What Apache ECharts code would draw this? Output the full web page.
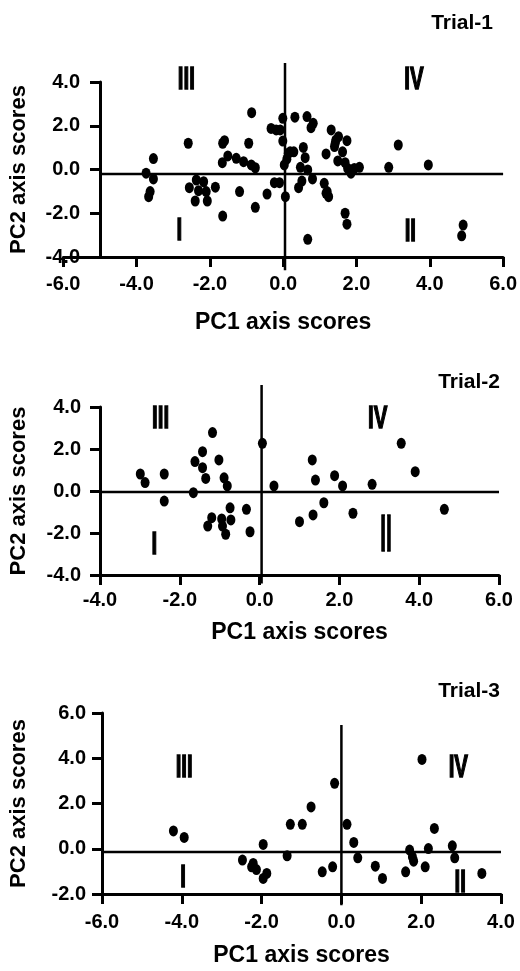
<!DOCTYPE html>
<html>
<head>
<meta charset="utf-8">
<script src="https://cdn.jsdelivr.net/npm/echarts@6/dist/echarts.min.js"></script>
<style>
  html, body { margin: 0; padding: 0; background: #fff; }
  #chart { width: 520px; height: 971px; }
</style>
</head>
<body>
<div id="chart"></div>
<script>
// ---------- data ----------
const panelTitles = ['Trial-1', 'Trial-2', 'Trial-3'];
const xAxisName = 'PC1 axis scores';
const yAxisName = 'PC2 axis scores';

// axis ranges [min, max, interval]
const xRange1 = [-6, 6, 2];
const yRange1 = [-4, 4, 2];
const yAxisAtX1 = -5;          // panel 1 y axis is drawn at PC1 = -5
const xRange2 = [-4, 6, 2];
const yRange2 = [-4, 4, 2];
const xRange3 = [-6, 4, 2];
const yRange3 = [-2, 6, 2];

// scatter points [PC1, PC2]
const trial1Points = [
  [-3.74,-0.17],[-3.54,0.50],[-3.54,-0.43],[-3.63,-1.01],[-3.67,-1.24],
  [-2.59,1.20],[-2.56,-0.83],[-2.37,-0.48],[-2.31,-0.97],[-2.40,-1.44],
  [-2.17,-0.56],[-2.10,-1.01],[-2.07,-1.44],[-1.85,-0.81],[-1.65,-2.13],
  [-1.66,0.31],[-1.65,1.20],[-1.60,1.32],[-1.51,0.62],[-1.28,0.51],
  [-1.08,0.36],[-1.19,-1.01],[-0.94,1.20],[-0.86,2.60],[-0.87,0.21],
  [-0.76,0.08],[-0.76,-1.73],[-0.44,-1.12],[-0.33,1.88],[-0.19,1.81],
  [-0.08,1.81],[-0.01,2.34],[-0.01,1.30],[-0.24,-0.60],[-0.10,-0.60],
  [0.06,-1.24],[0.03,0.21],[0.10,0.47],[0.19,0.81],[0.29,0.81],
  [0.32,2.39],[0.42,-0.83],[0.47,0.10],[0.51,-0.53],[0.55,1.01],
  [0.60,0.54],[0.65,2.42],[0.67,-0.02],[0.67,-3.19],[0.76,1.91],
  [0.82,2.11],[0.80,-0.43],[1.17,0.71],[1.12,-0.63],[1.20,-1.01],
  [1.24,-1.24],[1.31,1.81],[1.40,1.05],[1.44,1.35],[1.51,1.50],
  [1.42,1.20],[1.49,0.39],[1.62,0.81],[1.69,0.31],[1.74,1.32],
  [1.69,-2.00],[1.74,-2.50],[1.76,0.05],[1.85,-0.17],[1.94,0.05],
  [2.08,0.10],[2.88,0.10],[3.14,1.12],[3.96,0.21],[4.91,-2.54],
  [4.87,-3.03],[1.17,-1.09],[0.14,0.74]
];
const trial2Points = [
  [-2.99,0.81],[-2.87,0.40],[-2.39,0.81],[-2.39,-0.48],[-1.66,-0.08],
  [-1.18,2.78],[-1.43,1.87],[-1.62,1.40],[-1.43,1.11],[-1.35,0.60],
  [-1.02,1.48],[-0.89,0.63],[-0.81,0.24],[-1.20,-1.27],[-1.30,-1.67],
  [-0.95,-1.33],[-0.74,-0.80],[-0.72,-1.38],[-0.93,-1.67],[-0.85,-2.06],
  [-0.33,-0.87],[-0.24,-1.94],[0.07,2.27],[0.36,0.24],[1.00,-1.46],
  [1.32,1.48],[1.40,0.52],[1.88,0.73],[2.08,0.24],[1.61,-0.56],
  [1.34,-1.14],[2.34,-1.06],[2.82,0.32],[3.55,2.27],[3.90,0.92],
  [4.63,-0.87]
];
const trial3Points = [
  [-4.21,0.79],[-3.94,0.50],[-2.48,-0.50],[-2.21,-0.65],[-2.25,-0.80],
  [-2.13,-0.92],[-1.96,0.19],[-1.87,-1.09],[-1.96,-1.31],[-1.36,-0.31],
  [-1.28,1.08],[-0.98,1.08],[-0.76,1.85],[-0.17,2.89],[0.14,1.08],
  [0.31,0.28],[0.41,-0.40],[-0.48,-1.02],[-0.22,-0.80],[0.85,-0.77],
  [1.03,-1.31],[1.61,-1.02],[1.71,-0.06],[1.78,-0.36],[1.81,-0.55],
  [2.10,-0.80],[2.02,3.95],[2.18,0.01],[2.33,0.90],[2.78,0.13],
  [2.84,-0.40],[3.52,-1.09]
];

// quadrant dividing lines (data coordinates)
const quad1V = [[0.05,-4.6],[0.05,4.87]];
const quad1H = [[-5,-0.2],[6,-0.2]];
const quad2V = [[0.05,-4.4],[0.05,5.05]];
const quad2H = [[-4,-0.05],[6,-0.05]];
const quad3V = [[0,-2.5],[0,5.47]];
const quad3H = [[-6,-0.14],[4,-0.14]];

// quadrant labels: [text, PC1, PC2]
const quadLabels1 = [['III',-2.64,4.09],['IV',3.57,4.09],['I',-2.83,-2.80],['II',3.47,-2.86]];
const quadLabels2 = [['III',-2.48,3.43],['IV',2.96,3.43],['I',-2.64,-2.57],['II',3.17,-2.17]];
const quadLabels3 = [['III',-3.94,3.58],['IV',2.93,3.55],['I',-3.97,-1.31],['II',2.98,-1.54]];

// ---------- layout / style ----------
const W = 520;
const grids = [
  { left: 63, right: 16, top: 82, height: 175 },
  { left: 99, right: 21, top: 407, height: 168 },
  { left: 101, right: 19, top: 713, height: 181 }
];
const xNameGaps = [54, 46, 50];
const yNameGaps = [70, 70, 72];
const xLabelMargins = [17, 15, 18];
const yLabelMargins = [20, 19, 16];
const titleTops = [13, 372, 681];
const titleRights = [27, 20, 20];
// condensed look of the quadrant numerals: [fontSize, horizontal squeeze]
const numeralStyle = { normal: [32, 0.64], tall: [52, 0.4] };

const FONT = 'Liberation Sans, Arial, sans-serif';
const axisLineStyle = { color: '#000', width: 3 };

function fmt(v) { return v.toFixed(1); }

function makeXAxis(i, range) {
  return {
    type: 'value', gridIndex: i, min: range[0], max: range[1], interval: range[2],
    position: 'bottom', name: xAxisName, nameLocation: 'middle', nameGap: xNameGaps[i],
    nameMoveOverlap: false,
    nameTextStyle: { fontFamily: FONT, fontWeight: 'bold', fontSize: 23, color: '#000' },
    axisLine: { show: true, onZero: false, lineStyle: axisLineStyle },
    axisTick: { show: true, length: 10, lineStyle: { color: '#000', width: 3 } },
    axisLabel: { formatter: fmt, margin: xLabelMargins[i], fontFamily: FONT, fontWeight: 'bold', fontSize: 20, color: '#000', showMinLabel: true, showMaxLabel: true, hideOverlap: false },
    splitLine: { show: false }
  };
}
function makeYAxis(i, range, offset) {
  return {
    type: 'value', gridIndex: i, min: range[0], max: range[1], interval: range[2],
    position: 'left', offset: offset || 0,
    name: yAxisName, nameLocation: 'middle', nameGap: yNameGaps[i], nameRotate: 90,
    nameMoveOverlap: false,
    nameTextStyle: { fontFamily: FONT, fontWeight: 'bold', fontSize: 22, color: '#000' },
    axisLine: { show: true, onZero: false, lineStyle: axisLineStyle },
    axisTick: { show: true, length: 10, lineStyle: { color: '#000', width: 3 } },
    axisLabel: { formatter: fmt, margin: yLabelMargins[i], fontFamily: FONT, fontWeight: 'bold', fontSize: 20, color: '#000', showMinLabel: true, showMaxLabel: true, hideOverlap: false },
    splitLine: { show: false }
  };
}

// y axis of panel 1 sits at PC1 = yAxisAtX1: shift it inward through the x scale
const w1 = W - grids[0].left - grids[0].right;
const yOffset1 = -w1 * (yAxisAtX1 - xRange1[0]) / (xRange1[1] - xRange1[0]);

function scatterSeries(i, pts) {
  return {
    type: 'scatter', xAxisIndex: i, yAxisIndex: i, data: pts,
    symbol: 'circle', symbolSize: [9, 11],
    itemStyle: { color: '#000', opacity: 1 }, silent: true, z: 3
  };
}
function lineSeries(i, pts) {
  return {
    type: 'line', xAxisIndex: i, yAxisIndex: i, data: pts, clip: false,
    symbol: 'none', silent: true, z: 2,
    lineStyle: { color: '#000', width: 2.5 }
  };
}
function labelSeries(i, labs, tallIndex) {
  return {
    type: 'custom', xAxisIndex: i, yAxisIndex: i, clip: false, silent: true, z: 4,
    data: labs.map(l => ({ name: l[0], value: [l[1], l[2]] })),
    encode: { x: 0, y: 1 },
    renderItem: function (params, api) {
      const p = api.coord([api.value(0), api.value(1)]);
      const st = params.dataIndex === tallIndex ? numeralStyle.tall : numeralStyle.normal;
      return {
        type: 'text', x: p[0], y: p[1], scaleX: st[1], scaleY: 1,
        style: {
          text: labs[params.dataIndex][0],
          font: 'bold ' + st[0] + 'px ' + FONT,
          fill: '#000', stroke: '#000', lineWidth: 1.5,
          align: 'center', verticalAlign: 'middle'
        }
      };
    }
  };
}

const option = {
  backgroundColor: '#fff',
  animation: false,
  title: panelTitles.map((t, i) => ({
    text: t, right: titleRights[i], top: titleTops[i], padding: 0,
    textStyle: { fontFamily: FONT, fontWeight: 'bold', fontSize: 21, color: '#000' }
  })),
  grid: grids.map(g => Object.assign({ containLabel: false }, g)),
  xAxis: [makeXAxis(0, xRange1), makeXAxis(1, xRange2), makeXAxis(2, xRange3)],
  yAxis: [makeYAxis(0, yRange1, yOffset1), makeYAxis(1, yRange2), makeYAxis(2, yRange3)],
  series: [
    lineSeries(0, quad1V), lineSeries(0, quad1H),
    lineSeries(1, quad2V), lineSeries(1, quad2H),
    lineSeries(2, quad3V), lineSeries(2, quad3H),
    scatterSeries(0, trial1Points), scatterSeries(1, trial2Points), scatterSeries(2, trial3Points),
    labelSeries(0, quadLabels1, -1), labelSeries(1, quadLabels2, 3), labelSeries(2, quadLabels3, -1)
  ]
};

const chart = echarts.init(document.getElementById('chart'), null, { renderer: 'canvas' });
chart.setOption(option);
</script>
</body>
</html>
